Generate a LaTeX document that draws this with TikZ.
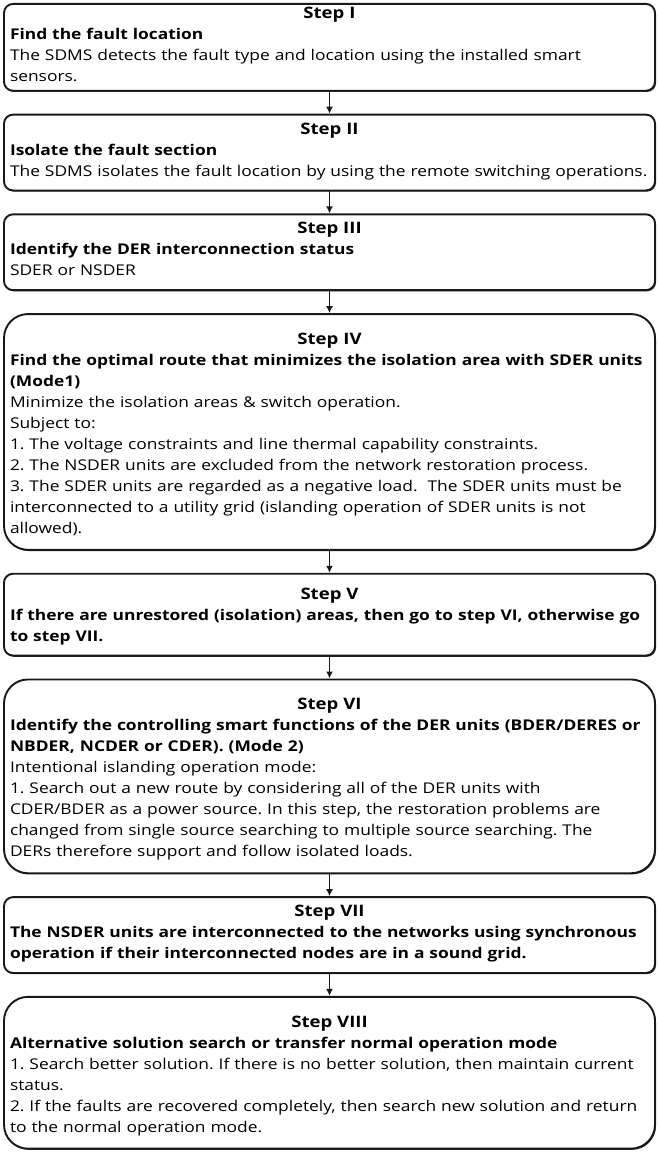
\documentclass[tikz,border=0pt]{standalone}
\usepackage{fontspec}
\setmainfont{Open Sans}[FakeStretch=1.175]
\usetikzlibrary{positioning,shadows,arrows.meta}
\setlength\parindent{0pt}
\frenchspacing
\newcommand\steptitle[2][0pt]{\hbox to\hsize{\hfil\vrule width0pt height\dimexpr 11.5pt+#1\relax{\fontsize{15.8}{21}\selectfont\bfseries #2}\hfil}}
\begin{document}
\begin{tikzpicture}[x=1pt,y=-1pt,
  stepbox/.style={draw=black!90, fill=white, line width=1.9pt, rounded corners=9pt,
    text width=639pt, inner xsep=6pt, inner ysep=8pt, align=left, anchor=north,
    font=\fontsize{14.8}{21}\selectfont,
    drop shadow={shadow xshift=1pt, shadow yshift=-1.2pt, opacity=0.8, fill=black}},
  bigbox/.style={stepbox, rounded corners=24pt, inner ysep=10pt},
  flow/.style={line width=1.6pt, draw=black!90, -{Latex[length=7pt,width=7pt]}},
  node distance=22pt]
\useasboundingbox (0,0) rectangle (658,1153);

\node[stepbox, inner ysep=3pt] (s1) at (329.5,3) {\steptitle{Step I}
\mbox{\bfseries Find the fault location}\\
\mbox{The SDMS detects the fault type and location using the installed smart}\\
\mbox{sensors.\strut}};

\node[stepbox, below=of s1] (s2) {\steptitle{Step II}
\mbox{\bfseries Isolate the fault section}\\
\mbox{The SDMS isolates the fault location by using the remote switching operations.\strut}};

\node[stepbox, below=of s2] (s3) {\steptitle{Step III}
\mbox{\bfseries Identify the DER interconnection status}\\
\mbox{SDER or NSDER\strut}};

\node[bigbox, below=of s3] (s4) {\steptitle[9pt]{Step IV}
\mbox{\bfseries Find the optimal route that minimizes the isolation area with SDER units}\\
\mbox{\bfseries (Mode1)}\\
\mbox{Minimize the isolation areas \& switch operation.}\\
\mbox{Subject to:}\\
\mbox{1. The voltage constraints and line thermal capability constraints.}\\
\mbox{2. The NSDER units are excluded from the network restoration process.}\\
\mbox{3. The SDER units are regarded as a negative load.\ \ The SDER units must be}\\
\mbox{interconnected to a utility grid (islanding operation of SDER units is not}\\
\mbox{allowed).\strut}};

\node[stepbox, below=of s4] (s5) {\steptitle[6pt]{Step V}
\mbox{\bfseries If there are unrestored (isolation) areas, then go to step VI, otherwise go}\\
\mbox{\bfseries to step VII.\strut}};

\node[bigbox, below=of s5] (s6) {\steptitle[9pt]{Step VI}
\mbox{\bfseries Identify the controlling smart functions of the DER units (BDER/DERES or}\\
\mbox{\bfseries NBDER, NCDER or CDER). (Mode 2)}\\
\mbox{Intentional islanding operation mode:}\\
\mbox{1. Search out a new route by considering all of the DER units with}\\
\mbox{CDER/BDER as a power source. In this step, the restoration problems are}\\
\mbox{changed from single source searching to multiple source searching. The}\\
\mbox{DERs therefore support and follow isolated loads.\strut}};

\node[stepbox, below=of s6] (s7) {\steptitle{Step VII}
\mbox{\bfseries The NSDER units are interconnected to the networks using synchronous}\\
\mbox{\bfseries operation if their interconnected nodes are in a sound grid.\strut}};

\node[bigbox, below=of s7] (s8) {\steptitle[9pt]{Step VIII}
\mbox{\bfseries Alternative solution search or transfer normal operation mode}\\
\mbox{1. Search better solution. If there is no better solution, then maintain current}\\
\mbox{status.}\\
\mbox{2. If the faults are recovered completely, then search new solution and return}\\
\mbox{to the normal operation mode.\strut}};

\draw[flow] (s1.south) -- (s2.north);
\draw[flow] (s2.south) -- (s3.north);
\draw[flow] (s3.south) -- (s4.north);
\draw[flow] (s4.south) -- (s5.north);
\draw[flow] (s5.south) -- (s6.north);
\draw[flow] (s6.south) -- (s7.north);
\draw[flow] (s7.south) -- (s8.north);
\end{tikzpicture}
\end{document}
